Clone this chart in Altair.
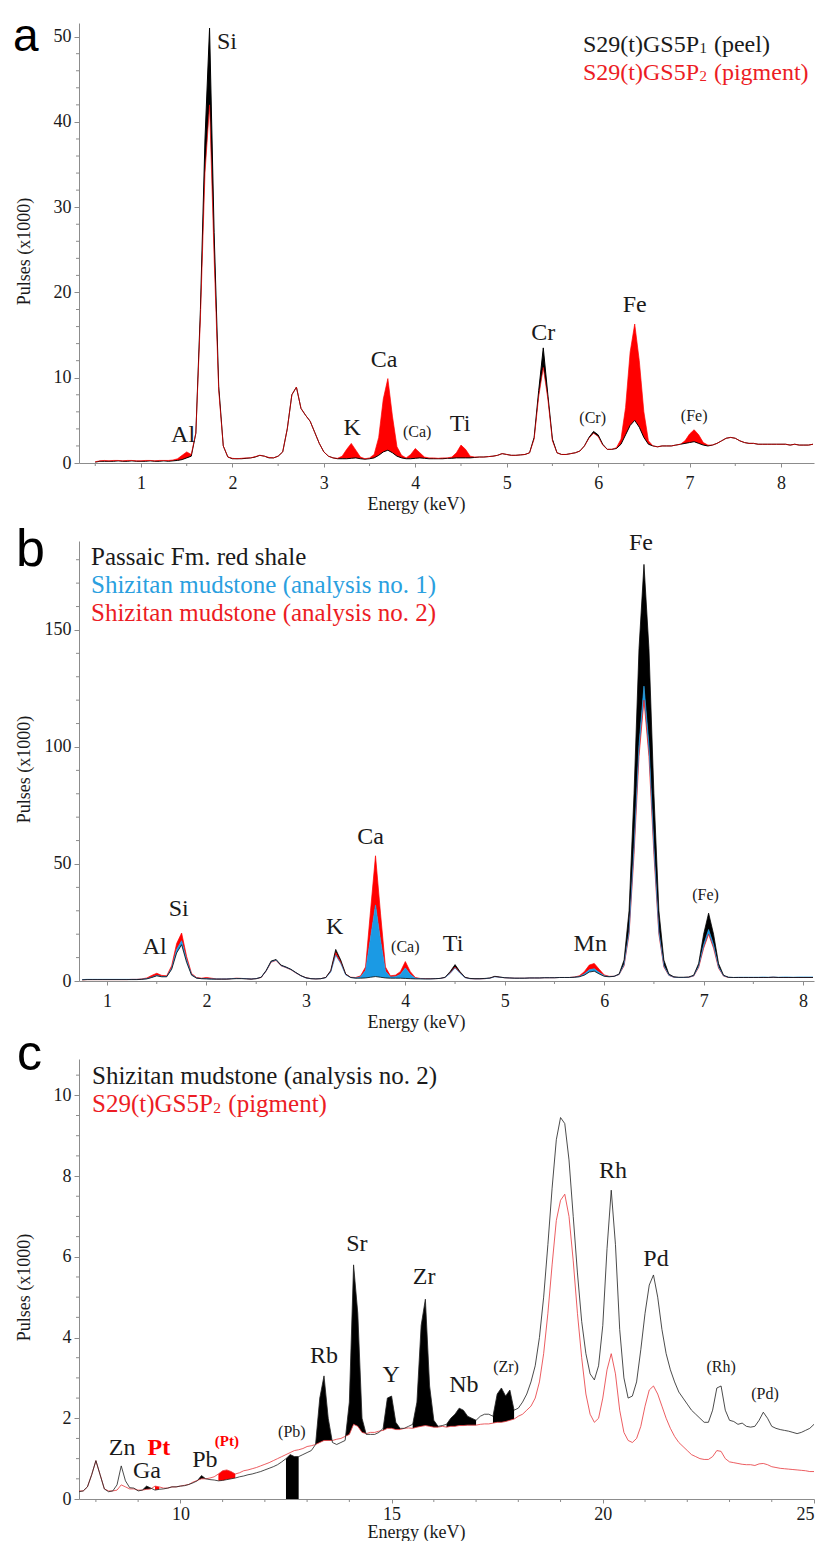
import altair as alt
import pandas as pd

SERIF = "Liberation Serif"
SANS = "Liberation Sans"
W, H, GAP = 735, 440, 78
GRAY = "#8c8c8c"
INK = "#1a1a1a"
RED = "#ff0000"
RED_TXT = "#ec1c24"
BLUE = "#1b9ae4"
BLUE_TXT = "#2aa0df"

# ---------------- panel a : peel vs pigment (0.50 .. 8.35 keV, step 0.05) ----------------
A_START, A_STEP = 0.50, 0.05
A_PEEL = [
    0.10, 0.20, 0.20, 0.20, 0.20, 0.25, 0.20, 0.20, 0.25, 0.20,
    0.20, 0.20, 0.25, 0.20, 0.20, 0.25, 0.20, 0.25, 0.30, 0.40,
    0.60, 0.80, 3.5, 18.0, 38.0, 51.0, 27.0, 9.0, 2.0, 0.70,
    0.50, 0.50, 0.50, 0.55, 0.60, 0.70, 0.90, 0.80, 0.60, 0.60,
    0.80, 1.30, 4.0, 8.0, 8.9, 6.4, 5.6, 4.9, 3.6, 2.3,
    1.30, 0.80, 0.60, 0.50, 0.50, 0.50, 0.55, 0.60, 0.50, 0.45,
    0.50, 0.60, 0.90, 1.30, 1.50, 1.20, 0.80, 0.60, 0.50, 0.50,
    0.55, 0.60, 0.55, 0.50, 0.50, 0.50, 0.50, 0.55, 0.55, 0.60,
    0.60, 0.60, 0.60, 0.65, 0.70, 0.70, 0.75, 0.80, 0.90, 1.10,
    1.00, 0.90, 0.90, 0.95, 1.00, 1.20, 3.0, 8.5, 13.5, 8.0,
    2.8, 1.2, 1.0, 1.0, 1.1, 1.2, 1.4, 2.0, 3.0, 3.7,
    3.3, 2.2, 1.6, 1.6, 1.7, 2.2, 3.3, 4.4, 5.0, 4.2,
    3.0, 2.2, 2.0, 1.9, 2.0, 2.0, 2.0, 2.1, 2.2, 2.3,
    2.4, 2.5, 2.3, 2.1, 2.0, 2.1, 2.3, 2.6, 2.9, 3.0,
    2.9, 2.6, 2.4, 2.3, 2.3, 2.2, 2.2, 2.2, 2.2, 2.2,
    2.2, 2.2, 2.1, 2.2, 2.1, 2.1, 2.1, 2.2,
]
A_PIGMENT = [
    0.15, 0.25, 0.30, 0.25, 0.30, 0.30, 0.25, 0.30, 0.30, 0.25,
    0.25, 0.30, 0.30, 0.25, 0.30, 0.30, 0.30, 0.35, 0.50, 0.90,
    1.30, 1.00, 3.5, 17.0, 34.0, 42.0, 24.0, 8.5, 2.0, 0.70,
    0.55, 0.50, 0.55, 0.60, 0.60, 0.75, 0.90, 0.80, 0.65, 0.60,
    0.80, 1.30, 4.0, 8.0, 8.9, 6.4, 5.6, 4.9, 3.6, 2.3,
    1.30, 0.80, 0.60, 0.55, 0.80, 1.6, 2.3, 1.5, 0.70, 0.50,
    0.60, 1.00, 3.0, 7.5, 9.9, 5.5, 1.9, 0.90, 0.60, 1.00,
    1.70, 1.20, 0.70, 0.60, 0.60, 0.55, 0.60, 0.60, 0.70, 1.20,
    2.10, 1.60, 0.80, 0.70, 0.70, 0.70, 0.75, 0.80, 0.90, 1.10,
    1.00, 0.90, 0.90, 0.95, 1.00, 1.20, 2.8, 7.8, 11.2, 7.5,
    2.6, 1.2, 1.0, 1.0, 1.1, 1.2, 1.4, 2.0, 2.9, 3.5,
    3.1, 2.1, 1.6, 1.6, 1.8, 2.8, 6.5, 13.0, 16.3, 12.0,
    6.0, 2.6, 2.0, 1.9, 2.0, 2.0, 2.0, 2.1, 2.2, 2.6,
    3.4, 3.9, 3.3, 2.4, 2.1, 2.1, 2.3, 2.6, 2.9, 3.0,
    2.9, 2.6, 2.4, 2.3, 2.3, 2.2, 2.2, 2.2, 2.2, 2.2,
    2.2, 2.2, 2.1, 2.2, 2.1, 2.1, 2.1, 2.2,
]
A_XDOMAIN = [0.322, 8.361]
A_YDOMAIN = [0, 51.6]
A_XTICKS = [1, 2, 3, 4, 5, 6, 7, 8]
A_YTICKS = [0, 10, 20, 30, 40, 50]
A_XMINOR = [0.5, 1.5, 2.5, 3.5, 4.5, 5.5, 6.5, 7.5]
A_YMINOR = [v for v in range(2, 51, 2) if v % 10]
A_BIG = ["Si", "Al", "K", "Ca", "Ti", "Cr", "Fe"]
A_BIG_E = [1.94, 1.46, 3.31, 3.66, 4.49, 5.40, 6.40]
A_BIG_Y = [48.5, 2.45, 3.3, 11.3, 3.7, 14.4, 17.7]
A_SMALL = ["(Ca)", "(Cr)", "(Fe)"]
A_SMALL_E = [4.02, 5.94, 7.05]
A_SMALL_Y = [3.6, 5.25, 5.5]

# ---------------- panel b : three mudstones (0.75 .. 8.10 keV, step 0.05) ----------------
B_START, B_STEP = 0.75, 0.05
B_PASSAIC = [
    0.5, 0.6, 0.6, 0.6, 0.6,
    0.6, 0.6, 0.6, 0.6, 0.6, 0.6, 0.6, 0.7, 0.9, 1.5,
    2.2, 1.8, 1.8, 5.0, 12.0, 15.5, 8.0, 2.5, 1.2, 1.0,
    0.9, 0.8, 0.8, 0.8, 0.8, 0.9, 1.0, 1.0, 0.9, 0.8,
    1.0, 1.6, 4.5, 8.5, 9.2, 6.8, 6.0, 5.0, 3.6, 2.3,
    1.4, 1.0, 0.9, 1.0, 1.5, 4.5, 13.5, 9.0, 3.0, 1.5,
    1.2, 1.2, 1.3, 1.6, 1.9, 1.6, 1.3, 1.2, 1.2, 1.2,
    1.1, 1.0, 0.9, 0.9, 0.9, 0.9, 1.0, 1.1, 1.6, 4.0,
    7.0, 4.0, 1.6, 1.1, 1.0, 1.0, 1.1, 1.3, 2.0, 1.7,
    1.4, 1.3, 1.2, 1.2, 1.2, 1.3, 1.3, 1.3, 1.4, 1.4,
    1.4, 1.5, 1.5, 1.5, 1.6, 1.8, 2.5, 3.8, 4.2, 3.0,
    2.0, 1.8, 2.0, 3.0, 9.0, 30.0, 80.0, 142.0, 178.0, 142.0,
    80.0, 30.0, 9.0, 3.0, 1.8, 1.6, 1.6, 1.7, 2.5, 7.5,
    20.0, 29.0, 20.0, 7.5, 2.5, 1.6, 1.5, 1.5, 1.5, 1.5,
    1.5, 1.5, 1.5, 1.5, 1.6, 1.5, 1.5, 1.5, 1.5, 1.5,
    1.5, 1.5, 1.5,
]
B_SHIZITAN1 = [
    0.6, 0.7, 0.7, 0.7, 0.7,
    0.7, 0.7, 0.7, 0.7, 0.7, 0.7, 0.7, 0.8, 1.0, 1.6,
    2.4, 1.9, 1.9, 5.5, 13.5, 17.2, 9.0, 2.8, 1.3, 1.0,
    1.0, 0.9, 0.9, 0.9, 0.9, 1.0, 1.1, 1.1, 1.0, 0.9,
    1.0, 1.6, 4.3, 8.2, 9.0, 6.6, 5.8, 4.9, 3.5, 2.2,
    1.3, 1.0, 0.9, 1.0, 1.4, 3.8, 11.0, 7.5, 2.6, 1.5,
    1.3, 1.8, 4.5, 18.5, 32.5, 17.5, 4.2, 1.7, 1.8, 2.8,
    5.6, 2.8, 1.2, 1.0, 0.9, 0.9, 1.0, 1.1, 1.5, 3.2,
    5.6, 3.3, 1.4, 1.0, 0.9, 0.9, 1.0, 1.2, 1.8, 1.6,
    1.4, 1.3, 1.2, 1.2, 1.2, 1.3, 1.3, 1.3, 1.4, 1.4,
    1.4, 1.5, 1.5, 1.5, 1.6, 1.9, 3.0, 4.8, 5.2, 3.6,
    2.2, 1.9, 2.0, 2.8, 7.0, 21.0, 57.0, 101.0, 126.0, 101.0,
    57.0, 21.0, 6.5, 2.5, 1.6, 1.5, 1.5, 1.6, 2.2, 6.3,
    15.5, 22.0, 15.5, 6.0, 2.2, 1.6, 1.5, 1.6, 1.6, 1.6,
    1.6, 1.6, 1.7, 1.6, 1.7, 1.6, 1.7, 1.7, 1.6, 1.7,
    1.7, 1.7, 1.7,
]
B_SHIZITAN2 = [
    0.5, 0.6, 0.6, 0.6, 0.6,
    0.6, 0.6, 0.6, 0.6, 0.6, 0.7, 0.7, 0.9, 1.3, 2.4,
    3.3, 2.4, 2.2, 6.5, 16.0, 20.5, 10.5, 3.2, 1.5, 1.2,
    1.5, 1.2, 0.9, 0.9, 0.9, 1.0, 1.2, 1.1, 1.0, 0.9,
    1.0, 1.5, 4.2, 8.0, 8.8, 6.5, 5.7, 4.8, 3.4, 2.2,
    1.4, 1.0, 0.9, 1.0, 1.5, 4.2, 12.3, 8.2, 2.9, 1.6,
    1.5, 2.2, 6.0, 30.0, 53.5, 29.0, 6.0, 2.2, 2.5, 4.0,
    8.3, 4.0, 1.5, 1.1, 1.0, 1.0, 1.0, 1.1, 1.5, 3.4,
    6.0, 3.5, 1.5, 1.0, 0.9, 0.9, 1.0, 1.2, 1.9, 1.6,
    1.4, 1.3, 1.2, 1.2, 1.2, 1.3, 1.3, 1.3, 1.4, 1.4,
    1.4, 1.5, 1.5, 1.5, 1.7, 2.2, 4.0, 6.8, 7.5, 5.0,
    2.6, 2.0, 2.0, 2.8, 6.5, 20.0, 54.0, 96.0, 120.0, 96.0,
    54.0, 20.0, 6.0, 2.4, 1.6, 1.5, 1.5, 1.6, 2.1, 5.8,
    14.0, 20.0, 14.0, 5.5, 2.1, 1.5, 1.5, 1.5, 1.5, 1.5,
    1.5, 1.5, 1.5, 1.5, 1.6, 1.5, 1.5, 1.5, 1.5, 1.5,
    1.5, 1.5, 1.5,
]
B_XDOMAIN = [0.718, 8.110]
B_YDOMAIN = [0, 188]
B_XTICKS = [1, 2, 3, 4, 5, 6, 7, 8]
B_YTICKS = [0, 50, 100, 150]
B_XMINOR = [1.5, 2.5, 3.5, 4.5, 5.5, 6.5, 7.5]
B_YMINOR = [v for v in range(10, 181, 10) if v % 50]
B_BIG = ["Al", "Si", "K", "Ca", "Ti", "Mn", "Fe"]
B_BIG_E = [1.48, 1.72, 3.29, 3.65, 4.48, 5.86, 6.37]
B_BIG_Y = [11.5, 27.7, 20.0, 58.7, 12.8, 12.8, 184.0]
B_SMALL = ["(Ca)", "(Fe)"]
B_SMALL_E = [4.00, 7.02]
B_SMALL_Y = [14.5, 36.6]

# ---------------- panel c : heavy elements (7.6 .. 25.0 keV, step 0.1) ----------------
C_START, C_STEP = 7.6, 0.1
C_SHIZITAN2 = [
    0.18, 0.20, 0.30, 0.60, 0.95, 0.60, 0.25, 0.18, 0.20, 0.35,
    0.82, 0.45, 0.28, 0.27, 0.20, 0.22, 0.32, 0.27, 0.22, 0.24,
    0.25, 0.27, 0.30, 0.30, 0.32, 0.33, 0.36, 0.40, 0.45, 0.58,
    0.50, 0.48, 0.47, 0.45, 0.46, 0.48, 0.50, 0.52, 0.55, 0.57,
    0.60, 0.62, 0.65, 0.68, 0.72, 0.76, 0.80, 0.85, 0.92, 1.00,
    1.10, 1.05, 1.05, 1.10, 1.15, 1.20, 1.35, 2.50, 3.05, 2.00,
    1.40, 1.35, 1.40, 1.45, 2.40, 5.80, 4.60, 2.00, 1.60, 1.60,
    1.60, 1.65, 1.75, 2.50, 2.55, 1.90, 1.75, 1.75, 1.80, 1.85,
    2.40, 4.30, 4.95, 2.80, 1.95, 1.80, 1.82, 1.85, 2.00, 2.10,
    2.25, 2.20, 2.05, 2.00, 1.95, 2.05, 2.10, 2.10, 2.05, 2.60,
    2.75, 2.55, 2.70, 2.20, 2.25, 2.40, 2.60, 2.90, 3.30, 4.00,
    5.00, 6.30, 7.70, 8.90, 9.45, 9.30, 8.40, 7.00, 5.60, 4.40,
    3.60, 3.10, 2.95, 3.30, 4.30, 6.20, 7.65, 6.30, 4.20, 3.00,
    2.50, 2.55, 2.90, 3.70, 4.60, 5.30, 5.55, 5.00, 4.20, 3.60,
    3.20, 2.90, 2.65, 2.50, 2.35, 2.20, 2.10, 2.00, 1.90, 1.90,
    2.20, 2.75, 2.80, 2.20, 1.95, 1.92, 1.85, 1.88, 1.80, 1.78,
    1.80, 1.95, 2.15, 2.00, 1.80, 1.75, 1.72, 1.70, 1.68, 1.65,
    1.62, 1.65, 1.70, 1.75, 1.85,
]
C_PIGMENT = [
    0.20, 0.20, 0.30, 0.60, 0.95, 0.60, 0.25, 0.20, 0.20, 0.22,
    0.35, 0.30, 0.25, 0.25, 0.22, 0.22, 0.24, 0.25, 0.32, 0.30,
    0.27, 0.27, 0.30, 0.30, 0.32, 0.34, 0.36, 0.42, 0.46, 0.50,
    0.50, 0.52, 0.55, 0.62, 0.70, 0.72, 0.68, 0.62, 0.65, 0.70,
    0.72, 0.75, 0.78, 0.82, 0.86, 0.90, 0.95, 1.00, 1.05, 1.10,
    1.15, 1.20, 1.22, 1.25, 1.30, 1.32, 1.35, 1.40, 1.45, 1.45,
    1.45, 1.48, 1.50, 1.55, 1.60, 1.85, 1.80, 1.65, 1.62, 1.65,
    1.65, 1.68, 1.70, 1.75, 1.75, 1.72, 1.72, 1.75, 1.76, 1.75,
    1.78, 1.80, 1.82, 1.80, 1.78, 1.78, 1.80, 1.78, 1.80, 1.80,
    1.82, 1.82, 1.83, 1.83, 1.83, 1.85, 1.86, 1.86, 1.88, 1.90,
    1.90, 1.92, 1.95, 1.98, 2.05, 2.10, 2.20, 2.30, 2.50, 2.90,
    3.60, 4.60, 5.80, 6.90, 7.40, 7.55, 7.00, 5.90, 4.60, 3.50,
    2.60, 2.10, 1.90, 2.00, 2.50, 3.20, 3.60, 3.10, 2.20, 1.65,
    1.45, 1.40, 1.50, 1.80, 2.30, 2.70, 2.80, 2.60, 2.30, 2.00,
    1.75, 1.55, 1.40, 1.30, 1.20, 1.10, 1.05, 1.00, 0.98, 0.98,
    1.05, 1.20, 1.18, 1.00, 0.92, 0.90, 0.88, 0.86, 0.85, 0.85,
    0.83, 0.87, 0.88, 0.85, 0.80, 0.78, 0.76, 0.75, 0.74, 0.73,
    0.72, 0.71, 0.70, 0.68, 0.68,
]
C_BLACK_WINDOWS = [(9.1, 9.3), (10.4, 10.6), (13.2, 13.6), (13.9, 14.4),
                   (14.8, 15.2), (15.5, 16.1), (16.3, 17.0), (17.4, 17.9)]
C_RED_WINDOWS = [(9.4, 9.5), (10.9, 11.3)]
C_BAR_WINDOWS = [(12.5, 12.8)]
C_XDOMAIN = [7.6, 25.0]
C_YDOMAIN = [0, 10.9]
C_XTICKS = [10, 15, 20, 25]
C_YTICKS = [0, 2, 4, 6, 8, 10]
C_XMINOR = [v for v in range(8, 25) if v % 5]
C_YMINOR = [v / 2 for v in range(1, 22) if v % 4]
C_BIG = ["Zn", "Ga", "Pb", "Rb", "Sr", "Y", "Zr", "Nb", "Rh", "Pd"]
C_BIG_E = [8.62, 9.21, 10.58, 13.40, 14.18, 14.99, 15.77, 16.71, 20.24, 21.26]
C_BIG_Y = [1.09, 0.52, 0.79, 3.38, 6.15, 2.90, 5.33, 2.64, 7.95, 5.78]
C_SMALL = ["(Pb)", "(Zr)", "(Rh)", "(Pd)"]
C_SMALL_E = [12.64, 17.71, 22.80, 23.84]
C_SMALL_Y = [1.65, 3.26, 3.28, 2.60]
C_RED_BIG = ["Pt"]
C_RED_BIG_E = [9.49]
C_RED_BIG_Y = [1.09]
C_RED_SMALL = ["(Pt)"]
C_RED_SMALL_E = [11.10]
C_RED_SMALL_Y = [1.43]


# ---------------- helpers ----------------
def grid(start, step, n):
    return [round(start + i * step, 3) for i in range(n)]


def band(E, top, others):
    lo = []
    for i, t in enumerate(top):
        below = [o[i] for o in others if o[i] < t]
        lo.append(max(below) if below else t)
    return pd.DataFrame({"E": E, "y": top, "y2": lo})


def curve(E, vals):
    return pd.DataFrame({"E": E, "y": vals})


def windows_df(E, top, bottom, windows):
    rows = []
    for w, (lo, hi) in enumerate(windows):
        for i, e in enumerate(E):
            if lo - 1e-6 <= e <= hi + 1e-6:
                rows.append({"E": e, "y": top[i],
                             "y2": bottom[i] if bottom is not None else 0.0,
                             "win": w})
    return pd.DataFrame(rows)


DUMMY = pd.DataFrame({"d": [0]})


def axes(xdom, ydom, xticks, yticks, lab_pad, title_y):
    X = alt.X("E:Q", scale=alt.Scale(domain=xdom, nice=False, zero=False),
              axis=alt.Axis(values=xticks, title="Energy (keV)", grid=False,
                            labelFont=SERIF, labelFontSize=18, labelColor=INK,
                            labelPadding=lab_pad, tickSize=4, tickColor=GRAY,
                            domainColor=GRAY, titleFont=SERIF, titleFontSize=18,
                            titleFontWeight="normal", titleColor=INK,
                            titleX=337, titleY=title_y, titleBaseline="alphabetic",
                            titleAlign="center"))
    Y = alt.Y("y:Q", scale=alt.Scale(domain=ydom, nice=False, zero=False),
              axis=alt.Axis(values=yticks, title="Pulses (x1000)", grid=False,
                            labelFont=SERIF, labelFontSize=18, labelColor=INK,
                            labelPadding=3, tickSize=5, tickColor=GRAY,
                            domainColor=GRAY, titleFont=SERIF, titleFontSize=18,
                            titleFontWeight="normal", titleColor=INK,
                            titleX=-46, titleY=228))
    return X, Y


def area(df, X, Y, color, detail=False):
    enc = dict(x=X, y=Y, y2=alt.Y2("y2:Q"))
    if detail:
        enc["detail"] = alt.Detail("win:N")
    return alt.Chart(df).mark_area(color=color, clip=True, strokeWidth=0).encode(**enc)


def line(df, X, Y, color, width, opacity=1.0):
    return alt.Chart(df).mark_line(color=color, strokeWidth=width, opacity=opacity,
                                   clip=True).encode(x=X, y=Y)


def minor_ticks(xminor, yminor, X, Y):
    xm = alt.Chart(pd.DataFrame({"E": xminor})).mark_rule(color=GRAY).encode(
        x=X, y=alt.value(H), y2=alt.value(H + 3))
    ym = alt.Chart(pd.DataFrame({"y": yminor})).mark_rule(color=GRAY).encode(
        y=Y, x=alt.value(-3), x2=alt.value(0))
    return [xm, ym]


def labels(texts, es, ys, X, Y, size, baseline, color=INK, weight="normal"):
    df = pd.DataFrame({"E": es, "y": ys, "t": texts})
    return alt.Chart(df).mark_text(font=SERIF, fontSize=size, baseline=baseline,
                                   align="center", color=color,
                                   fontWeight=weight).encode(x=X, y=Y, text="t:N")


def ptext(s, x, y, size, color=INK, font=SERIF):
    return alt.Chart(DUMMY).mark_text(text=s, font=font, fontSize=size, color=color,
                                      align="left", baseline="alphabetic").encode(
        x=alt.value(x), y=alt.value(y))


def sample_name(x, y, size, sub, rest, color):
    base_w = 4.834 * size          # width of "S29(t)GS5P" in a Times-metric font
    sub_size = size * 0.62
    rest_x = x + base_w + 0.5 * sub_size + 0.25 * size + 1.5
    return [ptext("S29(t)GS5P", x, y, size, color),
            ptext(sub, x + base_w + 0.5, y + 1, sub_size, color),
            ptext(rest, rest_x, y, size, color)]


# ---------------- panel a ----------------
AE = grid(A_START, A_STEP, len(A_PEEL))
XA, YA = axes(A_XDOMAIN, A_YDOMAIN, A_XTICKS, A_YTICKS, 7, 46)
panel_a = alt.layer(
    area(band(AE, A_PIGMENT, [A_PEEL]), XA, YA, RED),
    area(band(AE, A_PEEL, [A_PIGMENT]), XA, YA, "#000000"),
    line(curve(AE, A_PEEL), XA, YA, "#000000", 1.0),
    line(curve(AE, A_PIGMENT), XA, YA, RED, 0.8, 0.85),
    *minor_ticks(A_XMINOR, A_YMINOR, XA, YA),
    labels(A_BIG, A_BIG_E, A_BIG_Y, XA, YA, 24, "alphabetic"),
    labels(A_SMALL, A_SMALL_E, A_SMALL_Y, XA, YA, 16, "middle"),
    *sample_name(504, 29, 24, "1", "(peel)", INK),
    *sample_name(504, 57, 24, "2", "(pigment)", RED_TXT),
    ptext("a", -66, 28, 46, "#000000", SANS),
).properties(width=W, height=H)

# ---------------- panel b ----------------
BE = grid(B_START, B_STEP, len(B_PASSAIC))
XB, YB = axes(B_XDOMAIN, B_YDOMAIN, B_XTICKS, B_YTICKS, 7, 46)
panel_b = alt.layer(
    area(band(BE, B_SHIZITAN2, [B_PASSAIC, B_SHIZITAN1]), XB, YB, RED),
    area(band(BE, B_SHIZITAN1, [B_PASSAIC, B_SHIZITAN2]), XB, YB, BLUE),
    area(band(BE, B_PASSAIC, [B_SHIZITAN1, B_SHIZITAN2]), XB, YB, "#000000"),
    line(curve(BE, B_SHIZITAN2), XB, YB, RED, 0.8, 0.9),
    line(curve(BE, B_SHIZITAN1), XB, YB, BLUE, 0.8, 0.9),
    line(curve(BE, B_PASSAIC), XB, YB, "#000000", 0.9, 0.85),
    *minor_ticks(B_XMINOR, B_YMINOR, XB, YB),
    labels(B_BIG, B_BIG_E, B_BIG_Y, XB, YB, 24, "alphabetic"),
    labels(B_SMALL, B_SMALL_E, B_SMALL_Y, XB, YB, 16, "middle"),
    ptext("Passaic Fm. red shale", 12, 24, 25, INK),
    ptext("Shizitan mudstone (analysis no. 1)", 12, 52, 25, BLUE_TXT),
    ptext("Shizitan mudstone (analysis no. 2)", 12, 80, 25, RED_TXT),
    ptext("b", -63, 25, 52, "#000000", SANS),
).properties(width=W, height=H)

# ---------------- panel c ----------------
CE = grid(C_START, C_STEP, len(C_SHIZITAN2))
XC, YC = axes(C_XDOMAIN, C_YDOMAIN, C_XTICKS, C_YTICKS, 2, 38)
panel_c = alt.layer(
    area(windows_df(CE, C_SHIZITAN2, C_PIGMENT, C_BLACK_WINDOWS), XC, YC, "#000000", True),
    area(windows_df(CE, C_PIGMENT, C_SHIZITAN2, C_RED_WINDOWS), XC, YC, RED, True),
    area(windows_df(CE, C_SHIZITAN2, None, C_BAR_WINDOWS), XC, YC, "#000000", True),
    line(curve(CE, C_PIGMENT), XC, YC, "#e8383d", 0.9, 0.9),
    line(curve(CE, C_SHIZITAN2), XC, YC, "#222222", 0.9, 0.9),
    *minor_ticks(C_XMINOR, C_YMINOR, XC, YC),
    labels(C_BIG, C_BIG_E, C_BIG_Y, XC, YC, 24, "alphabetic"),
    labels(C_SMALL, C_SMALL_E, C_SMALL_Y, XC, YC, 16, "middle"),
    labels(C_RED_BIG, C_RED_BIG_E, C_RED_BIG_Y, XC, YC, 24, "alphabetic", RED, "bold"),
    labels(C_RED_SMALL, C_RED_SMALL_E, C_RED_SMALL_Y, XC, YC, 15, "middle", RED, "bold"),
    ptext("Shizitan mudstone (analysis no. 2)", 13, 25, 25, INK),
    *sample_name(13, 53, 25, "2", "(pigment)", RED_TXT),
    ptext("c", -62, 11, 50, "#000000", SANS),
).properties(width=W, height=H)

chart = alt.vconcat(panel_a, panel_b, panel_c, spacing=GAP, bounds="flush").resolve_scale(
    x="independent", y="independent"
).properties(
    padding={"left": 5, "top": 6, "right": 0, "bottom": 0},
    background="white",
).configure_view(strokeWidth=0).configure_axis(labelFont=SERIF, titleFont=SERIF)

chart.save("out.html", embed_options={"renderer": "svg", "actions": False})
